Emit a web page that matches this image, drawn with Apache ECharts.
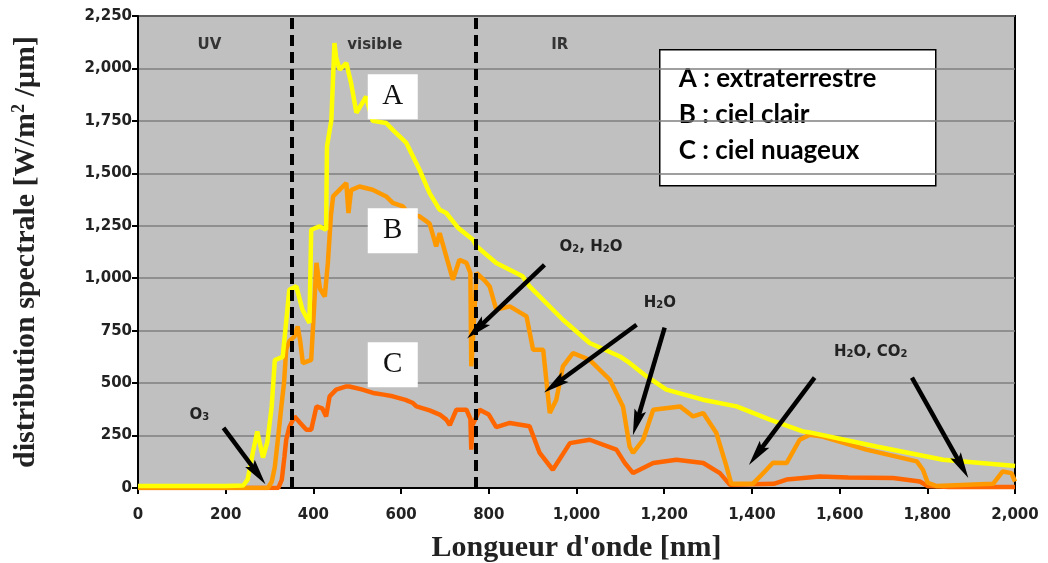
<!DOCTYPE html>
<html><head><meta charset="utf-8">
<script src="https://cdn.jsdelivr.net/npm/echarts@6/dist/echarts.min.js"></script>
<style>html,body{margin:0;padding:0;background:#fff}#c{width:1048px;height:563px}</style>
</head><body><div id="c"></div>
<script>
// ---- data (wavelength nm, W/m2/um) ----
const wlA  = [0,100,200,240,250,262,272,285,295,305,312,330,340,345,361,375,391,395,414,429,431,441,448,452,460,475,486,498,510,520,535,566,581,612,642,665,688,703,730,764,772,817,877,893,969,1030,1099,1121,1160,1205,1288,1365,1441,1516,1532,1684,1836,1995,2000];
const valA = [10,10,10,12,40,170,270,145,220,390,610,625,835,945,961,850,787,1231,1247,1231,1628,1755,2121,2050,1994,2026,1930,1789,1830,1866,1750,1740,1707,1645,1517,1406,1326,1311,1240,1183,1152,1073,1009,961,802,691,627,596,532,469,421,389,326,270,265,198,135,106,105];

const wlB  = [0,290,296,305,312,320,327,333,338,345,357,364,370,376,395,400,407,415,426,433,440,445,460,475,480,486,505,535,566,581,604,620,642,665,680,688,703,718,733,749,758,760,762,772,790,802,817,848,886,901,924,939,954,969,992,1030,1076,1106,1121,1129,1152,1175,1236,1266,1289,1319,1342,1353,1402,1430,1448,1479,1509,1532,1561,1661,1776,1790,1801,1820,1950,1972,1992,2000];
const valB = [0,0,0,30,100,250,390,500,660,700,723,770,700,595,611,800,1073,950,913,1073,1300,1390,1422,1454,1311,1420,1437,1422,1390,1359,1342,1300,1295,1260,1152,1215,1104,993,1088,1073,1025,580,640,1025,990,961,850,866,818,659,659,357,421,580,643,611,516,389,198,167,230,373,389,341,357,262,103,20,20,80,120,119,230,254,245,183,127,87,25,10,20,79,71,30];

const wlC  = [0,320,328,334,338,345,357,370,384,395,407,420,429,437,452,475,482,510,536,560,581,610,627,635,665,688,703,711,726,749,758,760,763,779,800,817,848,893,916,946,985,1030,1091,1110,1129,1175,1228,1289,1327,1350,1450,1479,1555,1620,1722,1783,1800,1850,2000];
const valC = [0,0,40,150,230,290,341,310,278,278,389,380,341,437,469,484,484,470,453,445,437,420,405,389,370,350,326,300,373,373,330,183,300,373,350,290,310,294,167,87,214,230,183,120,71,119,135,119,71,15,20,40,55,50,48,31,10,5,5];

const seriesNames = ['A','B','C'];
const xTicks = [0,200,400,600,800,1000,1200,1400,1600,1800,2000];
const yTicks = [0,250,500,750,1000,1250,1500,1750,2000,2250];
const bandEdges = [350, 770];
const bandLabels = [{t:'UV', x:163}, {t:'visible', x:540}, {t:'IR', x:962}];
const legendLines = ['A : extraterrestre', 'B : ciel clair', 'C : ciel nuageux'];
// annotation arrows: [tail, head] in data coords
const arrows = [
  [[195,287],[273,68]],
  [[927,1064],[772,755]],
  [[1137,778],[950,492]],
  [[1201,764],[1137,311]],
  [[1543,526],[1411,159]],
  [[1765,526],[1879,102]]
];
const arrowLabels = [
  {t:'O{s|3}', x:140, y:349},
  {t:'O{s|2}, H{s|2}O', x:1033, y:1150},
  {t:'H{s|2}O', x:1190, y:883},
  {t:'H{s|2}O, CO{s|2}', x:1671, y:650}
];
const letterBoxes = [{t:'A', y:1865}, {t:'B', y:1226}, {t:'C', y:588}];
const letterBoxX = 581;

const zip = (xs, ys) => xs.map((x,i)=>[x, ys[i]]);
const fmt = v => String(v).replace(/\B(?=(\d{3})+(?!\d))/g, ',');

const chart = echarts.init(document.getElementById('c'));
const tickFont = {fontFamily:'DejaVu Sans', fontWeight:'bold', fontSize:15, color:'#222'};

chart.setOption({
  animation:false,
  grid:{left:138, right:33, top:16, bottom:75, outerBoundsMode:'none', containLabel:false, show:true, backgroundColor:'#c0c0c0', borderColor:'#000', borderWidth:2},
  xAxis:{type:'value', min:0, max:2000, interval:200,
    axisLine:{show:true, lineStyle:{color:'#000', width:2}},
    axisTick:{show:true, length:6, lineStyle:{color:'#000', width:2}},
    axisLabel:Object.assign({margin:20, formatter:fmt}, tickFont),
    splitLine:{show:false},
    name:'Longueur d\'onde [nm]', nameLocation:'middle', nameGap:45,
    nameTextStyle:{fontFamily:'Liberation Serif', fontWeight:'bold', fontSize:30, color:'#222'}
  },
  yAxis:{type:'value', min:0, max:2250, interval:250,
    axisLine:{show:true, lineStyle:{color:'#000', width:2}},
    axisTick:{show:true, length:6, lineStyle:{color:'#000', width:2}},
    axisLabel:Object.assign({margin:6, formatter:fmt}, tickFont),
    splitLine:{show:true, lineStyle:{color:'#7f7f7f', width:1.5}},
    name:'distribution spectrale [W/m{p|2} /µm]', nameLocation:'middle', nameGap:95, nameRotate:90,
    nameTextStyle:{fontFamily:'Liberation Serif', fontWeight:'bold', fontSize:30, color:'#222',
      rich:{p:{fontFamily:'Liberation Serif', fontWeight:'bold', fontSize:18, color:'#222', verticalAlign:'top', padding:[0,0,15,0]}}}
  },
  series:[
    {name:seriesNames[2], type:'line', data:zip(wlC,valC), showSymbol:false, lineStyle:{color:'#ff6600', width:4.5}, z:2},
    {name:seriesNames[1], type:'line', data:zip(wlB,valB), showSymbol:false, lineStyle:{color:'#ff9900', width:4.5}, z:3},
    {name:seriesNames[0], type:'line', data:zip(wlA,valA), showSymbol:false, lineStyle:{color:'#ffff00', width:4.5}, z:4},
    {type:'line', data:[[0,0]], showSymbol:false, lineStyle:{opacity:0}, z:10, silent:true,
      markLine:{silent:true, animation:false, symbol:['none','none'],
        label:{show:false},
        data: bandEdges.map(x=>({xAxis:x, lineStyle:{color:'#000', width:4, type:[11,6]}}))
          .concat(arrows.map(a=>[
            {coord:a[0], symbol:'none', lineStyle:{color:'#000', width:4.5, type:'solid'}},
            {coord:a[1], symbol:'path://M5,0 L10,22 L5,18 L0,22 Z', symbolSize:[12,26]}
          ]))
      },
      markPoint:{silent:true, animation:false, symbol:'rect', symbolSize:0,
        data: bandLabels.map(b=>({coord:[b.x, 2113], label:{show:true, formatter:b.t, fontFamily:'DejaVu Sans', fontWeight:'bold', fontSize:15, color:'#333'}}))
          .concat(letterBoxes.map(b=>({coord:[letterBoxX, b.y], label:{show:true, formatter:b.t, fontFamily:'Liberation Serif', fontSize:29, color:'#111', backgroundColor:'#fff', width:50, height:45, lineHeight:45, align:'center', verticalAlign:'middle'}})))
          .concat(arrowLabels.map(b=>({coord:[b.x, b.y], label:{show:true, formatter:b.t, fontFamily:'DejaVu Sans', fontWeight:'bold', fontSize:15, color:'#222',
            rich:{s:{fontFamily:'DejaVu Sans', fontWeight:'bold', fontSize:10, color:'#222', verticalAlign:'bottom', padding:[6,0,0,0]}}}})))
      }
    }
  ],
  graphic:[
    {type:'group', left:659, top:49, z:100, children:[
      {type:'rect', shape:{x:0, y:0, width:276, height:136}, style:{fill:'#fff', stroke:'#000', lineWidth:1.5}},
      ...legendLines.map((t,i)=>({type:'text', x:19, y:29+i*36, style:{text:t, font:'bold 26px Lato', fill:'#000', verticalAlign:'middle'}}))
    ]}
  ]
});
</script></body></html>
